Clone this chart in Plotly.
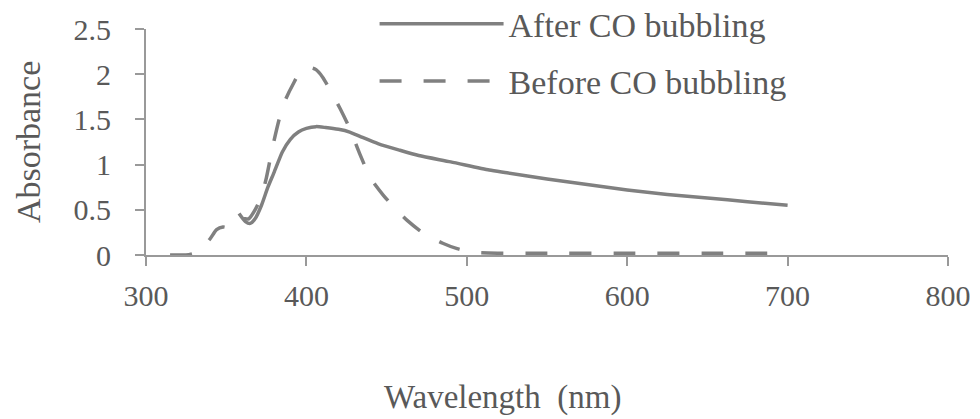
import plotly.graph_objects as go

# Data
after_wl = [358, 362, 365, 368, 372, 376, 380, 385, 390, 395, 400, 406, 412, 420, 427,
            435, 445, 458, 470, 490, 514, 525, 550, 575, 600, 625, 650, 675, 700]
after_abs = [0.46, 0.37, 0.35, 0.40, 0.55, 0.75, 0.92, 1.14, 1.28, 1.36, 1.40, 1.42, 1.41, 1.39, 1.36,
             1.30, 1.23, 1.16, 1.10, 1.03, 0.94, 0.91, 0.84, 0.78, 0.72, 0.67, 0.63, 0.59, 0.55]

before_wl = [315, 320, 325, 330, 335, 340, 344, 348, 352, 356, 360, 364, 368, 372, 375, 379,
             383, 387, 392, 396, 400, 403, 406, 410, 415, 421, 427, 433, 440, 448, 455, 463,
             473, 485, 494, 504, 520, 550, 600, 650, 700]
before_abs = [0.0, 0.0, 0.0, 0.02, 0.08, 0.18, 0.28, 0.31, 0.30, 0.33, 0.40, 0.40, 0.50, 0.65, 0.85, 1.20,
              1.50, 1.72, 1.90, 2.02, 2.03, 2.07, 2.05, 1.97, 1.82, 1.62, 1.40, 1.13, 0.85, 0.66, 0.52, 0.38,
              0.24, 0.13, 0.07, 0.03, 0.02, 0.02, 0.02, 0.02, 0.02]

x_ticks = [300, 400, 500, 600, 700, 800]
y_ticks = [0, 0.5, 1, 1.5, 2, 2.5]

LINE = "#808080"
TEXT = "#595959"
AXIS = "#999999"
FONT = "Liberation Serif"

fig = go.Figure()
fig.add_trace(go.Scatter(x=after_wl, y=after_abs, mode="lines", name="After CO bubbling",
                         line=dict(color=LINE, width=3.5, shape="spline", smoothing=0.6),
                         legendgroup="a"))
fig.add_trace(go.Scatter(x=before_wl, y=before_abs, mode="lines", name="Before CO bubbling",
                         line=dict(color=LINE, width=3.5, dash="22px,22px", shape="spline", smoothing=0.6),
                         legendgroup="b"))

# The page body has an 8px default margin, so the figure is sized to fit within the window.
fig.update_layout(
    width=972, height=411,
    margin=dict(l=138, r=32, t=21, b=164, autoexpand=False),
    paper_bgcolor="white", plot_bgcolor="white",
    font=dict(family=FONT, color=TEXT, size=30),
    showlegend=True,
    legend=dict(x=0.285, y=1.15, xanchor="left", yanchor="top",
                bgcolor="rgba(0,0,0,0)", font=dict(family=FONT, size=34, color=TEXT),
                itemwidth=124, tracegroupgap=10, traceorder="grouped"),
    xaxis=dict(range=[300, 800], tickvals=x_ticks, ticks="outside", ticklen=9, tickwidth=2,
               tickcolor=AXIS, showline=True, linecolor=AXIS, linewidth=2, showgrid=False,
               zeroline=False, tickfont=dict(family=FONT, size=30, color=TEXT),
               ticklabelstandoff=4, automargin=False),
    yaxis=dict(range=[0, 2.5], tickvals=y_ticks, ticks="outside", ticklen=9, tickwidth=2,
               tickcolor=AXIS, showline=True, linecolor=AXIS, linewidth=2, showgrid=False,
               zeroline=False, tickfont=dict(family=FONT, size=30, color=TEXT),
               ticklabelstandoff=18, automargin=False),
    annotations=[
        dict(text="Wavelength  (nm)", xref="paper", yref="paper", x=0.444, y=-0.63,
             xanchor="center", yanchor="middle", showarrow=False,
             font=dict(family=FONT, size=33, color=TEXT)),
        dict(text="Absorbance", xref="paper", yref="paper", x=-0.147, y=0.5,
             xanchor="center", yanchor="middle", showarrow=False, textangle=-90,
             font=dict(family=FONT, size=34, color=TEXT)),
    ],
)

fig.write_html("out.html")
